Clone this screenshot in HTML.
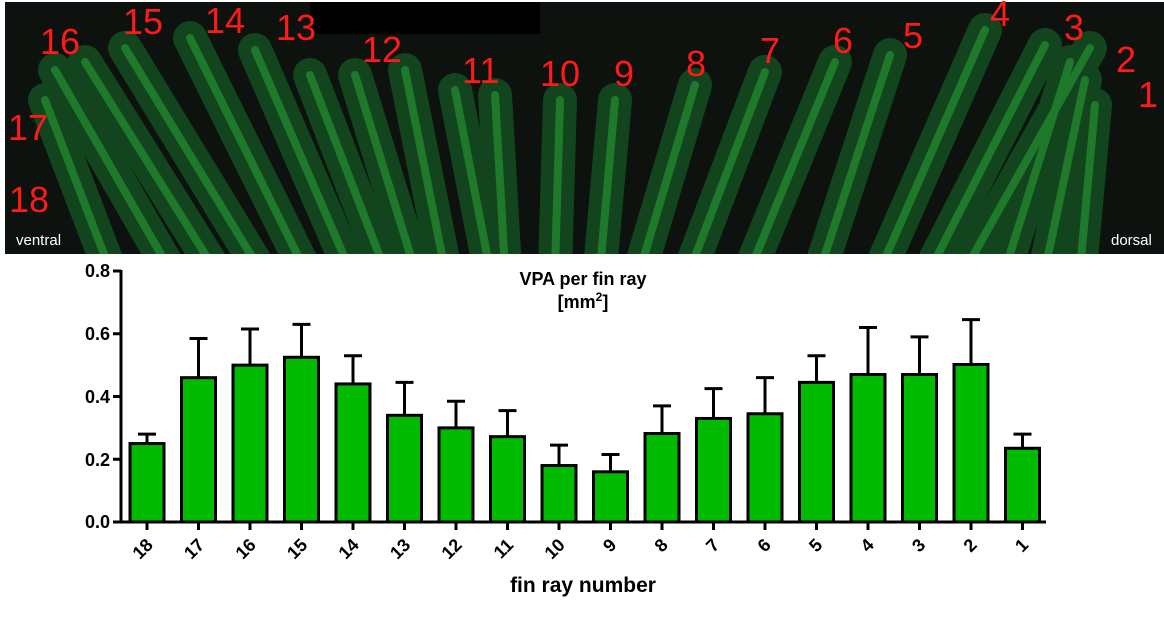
<!DOCTYPE html>
<html><head><style>
body{margin:0;background:#fff;width:1164px;height:619px;overflow:hidden}
svg{display:block}
</style></head><body>
<svg width="1164" height="619" xmlns="http://www.w3.org/2000/svg" font-family="Liberation Sans, Arial, sans-serif">
<defs><clipPath id="ph"><rect x="5" y="2" width="1159" height="252"/></clipPath></defs>
<rect x="5" y="2" width="1159" height="252" fill="#0d120e"/>
<rect x="310" y="2" width="230" height="32" fill="#000"/>
<g stroke-linecap="round" fill="none" clip-path="url(#ph)">
<g stroke="#17702a" stroke-width="34" opacity="0.55">
<path d="M45 100 L110 270"/><path d="M55 70 L170 270"/><path d="M85 62 L215 270"/><path d="M125 48 L260 270"/><path d="M190 38 L305 270"/><path d="M255 50 L350 270"/><path d="M310 75 L385 270"/><path d="M355 75 L415 270"/><path d="M405 70 L445 270"/><path d="M455 90 L490 270"/><path d="M495 95 L505 270"/><path d="M560 100 L555 270"/><path d="M615 100 L600 270"/><path d="M695 85 L640 270"/><path d="M765 72 L690 270"/><path d="M835 62 L750 270"/><path d="M890 55 L820 270"/><path d="M985 30 L880 270"/><path d="M1045 45 L930 270"/><path d="M1090 48 L965 270"/><path d="M1070 62 L1005 270"/><path d="M1085 80 L1045 270"/><path d="M1095 105 L1080 270"/>
</g>
<g stroke="#2fb83e" stroke-width="8" opacity="0.45">
<path d="M45 100 L110 270"/><path d="M55 70 L170 270"/><path d="M85 62 L215 270"/><path d="M125 48 L260 270"/><path d="M190 38 L305 270"/><path d="M255 50 L350 270"/><path d="M310 75 L385 270"/><path d="M355 75 L415 270"/><path d="M405 70 L445 270"/><path d="M455 90 L490 270"/><path d="M495 95 L505 270"/><path d="M560 100 L555 270"/><path d="M615 100 L600 270"/><path d="M695 85 L640 270"/><path d="M765 72 L690 270"/><path d="M835 62 L750 270"/><path d="M890 55 L820 270"/><path d="M985 30 L880 270"/><path d="M1045 45 L930 270"/><path d="M1090 48 L965 270"/><path d="M1070 62 L1005 270"/><path d="M1085 80 L1045 270"/><path d="M1095 105 L1080 270"/>
</g>
</g>
<g fill="#ff1a1a" font-size="36">
<text x="40" y="54">16</text><text x="123" y="34">15</text><text x="205" y="33">14</text><text x="276" y="40">13</text><text x="362" y="62">12</text><text x="462" y="83">11</text><text x="540" y="86">10</text><text x="614" y="86">9</text><text x="686" y="76">8</text><text x="760" y="63">7</text><text x="833" y="53">6</text><text x="903" y="48">5</text><text x="990" y="26">4</text><text x="1064" y="40">3</text><text x="1116" y="72">2</text><text x="1138" y="107">1</text><text x="8" y="140">17</text><text x="9" y="212">18</text>
</g>
<text x="16" y="245" fill="#fff" font-size="15">ventral</text>
<text x="1111" y="245" fill="#fff" font-size="15">dorsal</text>

<text x="583" y="285" text-anchor="middle" font-size="18" font-weight="bold">VPA per fin ray</text>
<text x="583" y="308" text-anchor="middle" font-size="18" font-weight="bold">[mm<tspan font-size="12" dy="-7">2</tspan><tspan dy="7">]</tspan></text>

<g stroke="#000" stroke-width="3" fill="none">
<path d="M121 270 L121 522 L1046 522"/>
<path d="M113 271 H121 M113 333.75 H121 M113 396.5 H121 M113 459.25 H121 M113 522 H121"/>
</g>
<g font-size="18" font-weight="bold" text-anchor="end">
<text x="110" y="277">0.8</text><text x="110" y="340">0.6</text><text x="110" y="403">0.4</text><text x="110" y="466">0.2</text><text x="110" y="528">0.0</text>
</g>
<g id="bars" stroke="#000" stroke-width="3"></g>
<text x="583" y="592" text-anchor="middle" font-size="21" font-weight="bold">fin ray number</text>
</svg>
<script>
var v=[[18,.25,.28],[17,.46,.585],[16,.5,.615],[15,.525,.63],[14,.44,.53],[13,.34,.445],[12,.30,.385],[11,.272,.355],[10,.18,.245],[9,.16,.215],[8,.282,.37],[7,.33,.425],[6,.345,.46],[5,.445,.53],[4,.47,.62],[3,.47,.59],[2,.502,.645],[1,.235,.28]];
var g=document.getElementById('bars'),s='';
function Y(a){return 522-a*313.75;}
v.forEach(function(d,i){var cx=147+i*51.5,y=Y(d[1]),e=Y(d[2]);
s+='<line x1="'+cx+'" y1="'+y+'" x2="'+cx+'" y2="'+e+'"/>';
s+='<line x1="'+(cx-9)+'" y1="'+e+'" x2="'+(cx+9)+'" y2="'+e+'"/>';
s+='<rect x="'+(cx-17)+'" y="'+y+'" width="34" height="'+(522-y)+'" fill="#00bb00"/>';
s+='<line x1="'+cx+'" y1="522" x2="'+cx+'" y2="530"/>';
s+='<text x="'+(cx+7)+'" y="546" transform="rotate(-45 '+(cx+7)+' 546)" text-anchor="end" font-size="18" font-weight="bold" stroke="none" fill="#000">'+d[0]+'</text>';});
g.innerHTML=s;
</script>
</body></html>
